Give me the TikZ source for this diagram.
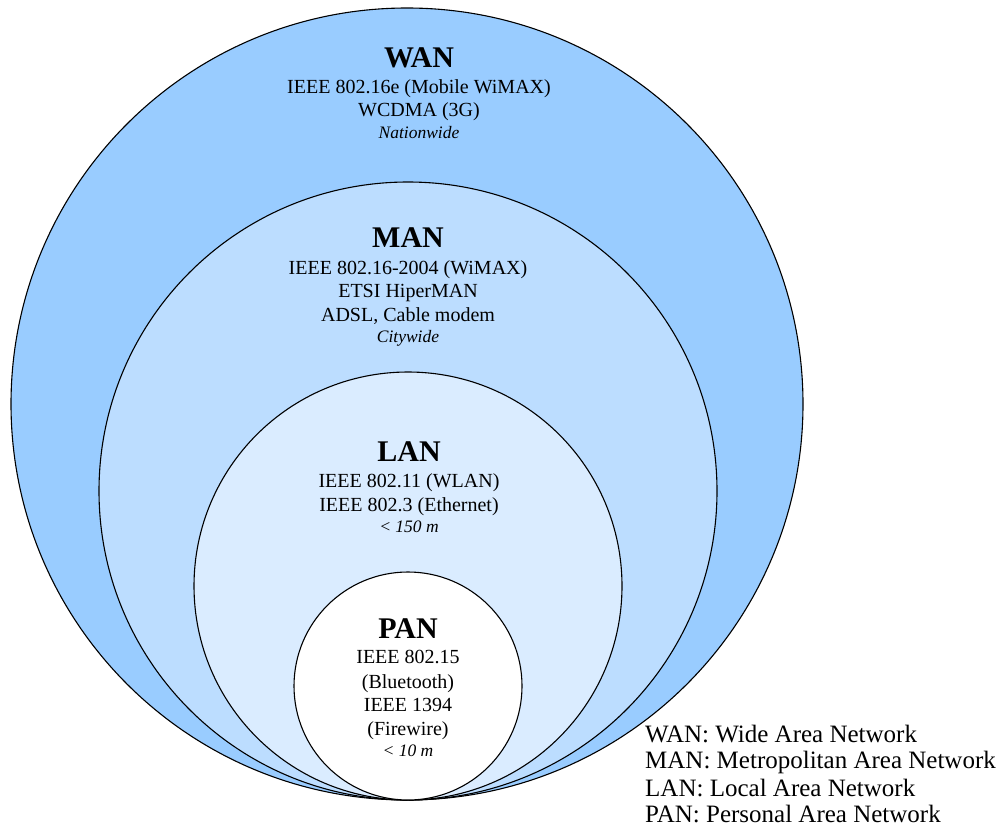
\documentclass[tikz,border=0pt]{standalone}
\usepackage{fontspec}
\setmainfont{Liberation Serif}
\definecolor{wancol}{RGB}{153,204,255}
\definecolor{mancol}{RGB}{188,221,255}
\definecolor{lancol}{RGB}{218,236,255}
\tikzset{
  ring/.style={draw=black, line width=1.1pt},
  ttl/.style={anchor=base, inner sep=0pt, font=\fontsize{30}{34}\selectfont\bfseries},
  bod/.style={anchor=base, inner sep=0pt, font=\fontsize{20}{23}\selectfont},
  itl/.style={anchor=base, inner sep=0pt, font=\fontsize{17.5}{21}\selectfont\itshape},
  leg/.style={anchor=base west, inner sep=0pt, font=\fontsize{25}{28}\selectfont}
}
\begin{document}
\begin{tikzpicture}[x=1pt,y=-1pt]
\useasboundingbox (0,0) rectangle (1003,835);
\fill[white] (0,0) rectangle (1003,835);
% circles, all tangent at the bottom point (408,800)
\coordinate (cw) at (407,404);
\coordinate (cm) at (408,491);
\coordinate (cl) at (408,586);
\coordinate (cp) at (408,686);
\filldraw[ring, fill=wancol] (cw) circle[radius=396pt];
\filldraw[ring, fill=mancol] (cm) circle[radius=309pt];
\filldraw[ring, fill=lancol] (cl) circle[radius=214pt];
\filldraw[ring, fill=white] (cp) circle[radius=114pt];
% WAN
\node[ttl] (w0) at (419,67) {WAN};
\node[bod] (w1) at (419,93) {IEEE 802.16e (Mobile WiMAX)};
\node[bod] (w2) at (419,116) {WCDMA (3G)};
\node[itl] (w3) at (419,138) {Nationwide};
% MAN
\node[ttl] (m0) at (408,247) {MAN};
\node[bod] (m1) at (408,274) {IEEE 802.16-2004 (WiMAX)};
\node[bod] (m2) at (408,297) {ETSI HiperMAN};
\node[bod] (m3) at (408,321) {ADSL, Cable modem};
\node[itl] (m4) at (408,342) {Citywide};
% LAN
\node[ttl] (l0) at (409,461) {LAN};
\node[bod] (l1) at (409,487) {IEEE 802.11 (WLAN)};
\node[bod] (l2) at (409,511) {IEEE 802.3 (Ethernet)};
\node[itl] (l3) at (409,532) {< 150 m};
% PAN
\node[ttl] (p0) at (408,638) {PAN};
\node[bod] (p1) at (408,663) {IEEE 802.15};
\node[bod] (p2) at (408,688) {(Bluetooth)};
\node[bod] (p3) at (408,711) {IEEE 1394};
\node[bod] (p4) at (408,735) {(Firewire)};
\node[itl] (p5) at (408,756) {< 10 m};
% legend
\node[leg] (g1) at (645,742) {WAN: Wide Area Network};
\node[leg] (g2) at (645,768) {MAN: Metropolitan Area Network};
\node[leg] (g3) at (645,796) {LAN: Local Area Network};
\node[leg] (g4) at (645,822) {PAN: Personal Area Network};
\end{tikzpicture}
\end{document}
